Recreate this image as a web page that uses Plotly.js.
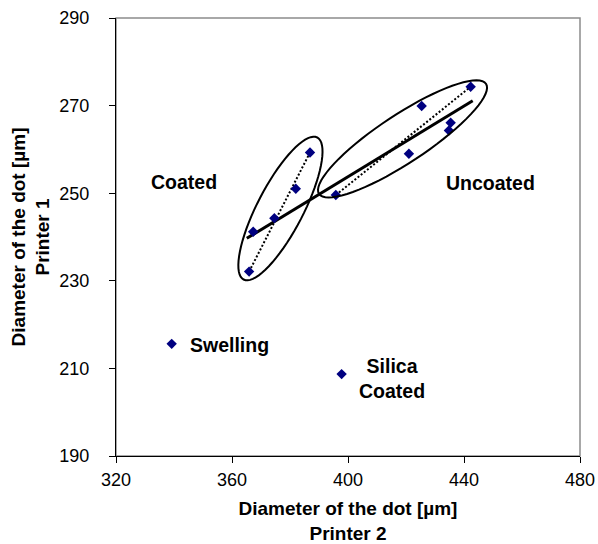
<!DOCTYPE html>
<html>
<head>
<meta charset="utf-8">
<script src="https://cdn.plot.ly/plotly-3.0.1.min.js"></script>
<style>html,body{margin:0;padding:0;background:#fff;}#chart{width:598px;height:544px;}</style>
</head>
<body>
<div id="chart"></div>
<script>
// ---- data ----
var coatedX = [365.9, 367.3, 374.6, 382.0, 386.9];
var coatedY = [232.1, 241.2, 244.3, 251.0, 259.3];
var uncoatedX = [395.8, 421.0, 425.4, 435.4, 434.8, 442.3];
var uncoatedY = [249.6, 259.0, 269.9, 266.1, 264.3, 274.3];
var swellingX = [339.2];
var swellingY = [215.6];
var silicaX = [397.8];
var silicaY = [208.7];
var trendX = [365.1, 443.0];
var trendY = [239.7, 271.1];
var xTicks = [320, 360, 400, 440, 480];
var yTicks = [190, 210, 230, 250, 270, 290];
var groupLabels = ["Coated", "Uncoated", "Swelling", "Silica<br>Coated"];
var labelX = [343.4, 449.0, 359.0, 415.2];
var labelY = [252.6, 252.3, 215.3, 207.7];
// ellipse outlines: centre (data), semi-axes (px), angle (deg)
var ellCoated = {cx: 376.7, cy: 246.5, a: 80, b: 23, ang: 62.6};
var ellUncoated = {cx: 418.8, cy: 262.4, a: 100, b: 24, ang: 33.4};

var W = 598, H = 544;
var M = {l: 116, r: 18, t: 18, b: 88};
var xr = [320, 480], yr = [190, 290];
var kx = (W - M.l - M.r) / (xr[1] - xr[0]);
var ky = (H - M.t - M.b) / (yr[1] - yr[0]);

function ellipsePath(e) {
  var th = e.ang * Math.PI / 180, s = '';
  for (var i = 0; i <= 72; i++) {
    var t = i / 72 * 2 * Math.PI;
    var dx = e.a * Math.cos(t) * Math.cos(th) - e.b * Math.sin(t) * Math.sin(th);
    var dy = e.a * Math.cos(t) * Math.sin(th) + e.b * Math.sin(t) * Math.cos(th);
    s += (i === 0 ? 'M' : 'L') + (e.cx + dx / kx).toFixed(3) + ',' + (e.cy + dy / ky).toFixed(3);
  }
  return s + 'Z';
}

var navy = '#000080';
var mk = {symbol: 'diamond', size: 8, color: navy};
var traces = [
  {x: trendX, y: trendY, mode: 'lines', line: {color: '#000', width: 3}, hoverinfo: 'skip'},
  {x: [coatedX[0], coatedX[coatedX.length - 1]], y: [coatedY[0], coatedY[coatedY.length - 1]],
   mode: 'lines', line: {color: '#000', width: 2, dash: '2px,2px'}, hoverinfo: 'skip'},
  {x: [uncoatedX[0], uncoatedX[uncoatedX.length - 1]], y: [uncoatedY[0], uncoatedY[uncoatedY.length - 1]],
   mode: 'lines', line: {color: '#000', width: 2, dash: '2px,2px'}, hoverinfo: 'skip'},
  {x: coatedX, y: coatedY, mode: 'markers', marker: mk, name: 'Coated'},
  {x: uncoatedX, y: uncoatedY, mode: 'markers', marker: mk, name: 'Uncoated'},
  {x: swellingX, y: swellingY, mode: 'markers', marker: mk, name: 'Swelling'},
  {x: silicaX, y: silicaY, mode: 'markers', marker: mk, name: 'Silica Coated'}
];

var fontReg = {family: 'Liberation Sans, Arial, sans-serif', size: 18, color: '#000'};
var fontBold = {family: 'Liberation Sans, Arial, sans-serif', size: 19.5, color: '#000', weight: 'bold'};
var fontTitle = {family: 'Liberation Sans, Arial, sans-serif', size: 19, color: '#000', weight: 'bold'};

var annotations = groupLabels.map(function (t, i) {
  return {x: labelX[i], y: labelY[i], xref: 'x', yref: 'y', text: '<b>' + t + '</b>', showarrow: false,
          xanchor: 'center', yanchor: 'middle', font: fontBold};
});

var layout = {
  width: W, height: H, margin: M, showlegend: false,
  paper_bgcolor: '#fff', plot_bgcolor: '#fff',
  xaxis: {range: xr, tickvals: xTicks, ticktext: xTicks.map(String), showgrid: false, zeroline: false,
          showline: true, linecolor: '#000', linewidth: 1, ticks: 'outside', ticklen: 6, tickcolor: '#000',
          tickfont: fontReg, ticklabelstandoff: 1,
          title: {text: '<b>Diameter of the dot [µm]</b><br><b>Printer 2</b>', font: fontTitle, standoff: 14}},
  yaxis: {range: yr, tickvals: yTicks, ticktext: yTicks.map(String), showgrid: false, zeroline: false,
          showline: true, linecolor: '#000', linewidth: 1, ticks: 'outside', ticklen: 6, tickcolor: '#000',
          tickfont: fontReg, ticklabelstandoff: 16,
          title: {text: '<b>Diameter of the dot [µm]</b><br><b>Printer 1</b>', font: fontTitle, standoff: 4}},
  shapes: [
    {type: 'rect', xref: 'paper', yref: 'paper', x0: 0, x1: 1, y0: 0, y1: 1, line: {color: '#8c8c8c', width: 1.5}, layer: 'below'},
    {type: 'path', xref: 'x', yref: 'y', path: ellipsePath(ellCoated), line: {color: '#000', width: 2}},
    {type: 'path', xref: 'x', yref: 'y', path: ellipsePath(ellUncoated), line: {color: '#000', width: 2}}
  ],
  annotations: annotations
};

Plotly.newPlot('chart', traces, layout, {displayModeBar: false, staticPlot: true});
</script>
</body>
</html>
